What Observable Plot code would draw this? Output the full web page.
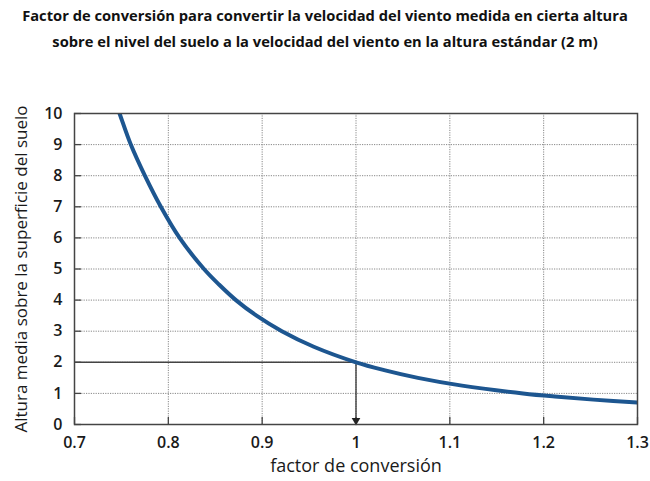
<!DOCTYPE html>
<html><head><meta charset="utf-8">
<script src="https://cdn.jsdelivr.net/npm/d3@7"></script>
<script src="https://cdn.jsdelivr.net/npm/@observablehq/plot@0.6"></script>
<style>
body{margin:0;background:#fff;font-family:"Open Sans",sans-serif;}
#title{height:58px;box-sizing:border-box;padding-top:2px;text-align:center;font-weight:bold;font-size:14.7px;line-height:26px;color:#111;font-family:"Open Sans",sans-serif;}
#chart g[aria-label$="tick label"], #chart g[aria-label$="tick label"] text {font-size:16px !important;font-weight:600;fill:#1a1a1a;}
#chart g[aria-label="x-axis label"], #chart g[aria-label="x-axis label"] text {font-size:18px !important;fill:#1a1a1a;}
#chart g[aria-label="y-axis label"], #chart g[aria-label="y-axis label"] text {font-size:17px !important;fill:#1a1a1a;}
</style></head><body>
<div id="title">Factor de conversión para convertir la velocidad del viento medida en cierta altura<br>sobre el nivel del suelo a la velocidad del viento en la altura estándar (2 m)</div>
<div id="chart"></div>
<script>
// altura (m) y factor de conversión
const heights = [10.5, 10, 9, 8, 7, 6, 5, 4.5, 4, 3.5, 3, 2.5, 2, 1.75, 1.5, 1.25, 1, 0.9, 0.8, 0.7, 0.65];
const factors = [0.742, 0.748, 0.760, 0.775, 0.792, 0.812, 0.838, 0.854, 0.872, 0.894, 0.921, 0.955, 1.000, 1.030, 1.066, 1.113, 1.178, 1.212, 1.253, 1.303, 1.33];
const xTicks = [0.7, 0.8, 0.9, 1, 1.1, 1.2, 1.3];
const yTicks = [0, 1, 2, 3, 4, 5, 6, 7, 8, 9, 10];
const refFactor = [1];
const refHeight = [2];

const curve = heights.map((h, i) => ({h, f: factors[i]}));
const ref = refFactor.map((f, i) => ({f, h: refHeight[i]}));

const W = 650, mL = 74, mR = 13;
const plotW = W - mL - mR;

const chart = Plot.plot({
  width: W,
  height: 423,
  marginLeft: mL,
  marginRight: mR,
  marginTop: 55,
  marginBottom: 57,
  style: {fontFamily: "'Open Sans', sans-serif", color: "#222", background: "#fff"},
  x: {domain: [0.7, 1.3]},
  y: {domain: [0, 10]},
  marks: [
    Plot.gridX(xTicks, {stroke: "#888", strokeOpacity: 1, strokeDasharray: "1.2,1.2", strokeWidth: 1}),
    Plot.gridY(yTicks, {stroke: "#888", strokeOpacity: 1, strokeDasharray: "1.2,1.2", strokeWidth: 1}),
    Plot.tickY(yTicks, {y: d => d, stroke: "#444", strokeWidth: 1.3, insetRight: plotW - 7}),
    Plot.tickX(xTicks, {x: d => d, stroke: "#444", strokeWidth: 1.3, insetTop: 366 - 55 - 7}),
    Plot.axisX(xTicks, {tickSize: 0, tickPadding: 12, tickFormat: d => String(d), label: "factor de conversión", labelAnchor: "center", labelArrow: "none", labelOffset: 47}),
    Plot.axisY(yTicks, {tickSize: 0, tickPadding: 12, label: "Altura media sobre la superficie del suelo", labelAnchor: "center", labelArrow: "none", labelOffset: 60}),
    Plot.ruleY(ref, {y: "h", x1: 0.7, x2: "f", stroke: "#444", strokeWidth: 1.5}),
    Plot.ruleX(ref, {x: "f", y1: "h", y2: 0, stroke: "#333", strokeWidth: 1.3}),
    Plot.dot(ref, {x: "f", y: 0, symbol: "triangle", rotate: 180, r: 3.2, fill: "#222", stroke: "none", dy: -4}),
    Plot.line(curve, {x: "f", y: "h", curve: "catmull-rom", stroke: "#1d5690", strokeWidth: 4, clip: true}),
    Plot.frame({stroke: "#444", strokeWidth: 1.5})
  ]
});
document.getElementById("chart").appendChild(chart);
</script>
</body></html>
